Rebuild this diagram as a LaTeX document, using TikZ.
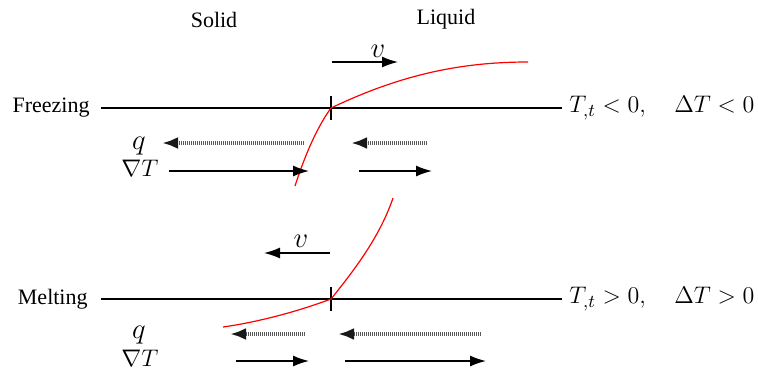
\documentclass[tikz,border=0pt]{standalone}
\usepackage{fontspec}
\setmainfont{Liberation Serif}
\usetikzlibrary{arrows.meta}
\begin{document}
\begin{tikzpicture}[x=0.5pt,y=-0.5pt,
  lbl/.style={font=\fontsize{11}{13}\selectfont, inner sep=0pt},
  mth/.style={font=\fontsize{12.2}{14}\selectfont, inner sep=0pt},
  grad/.style={font=\fontsize{12.5}{14}\selectfont, inner sep=0pt, anchor=base},
  big/.style={font=\fontsize{15}{18}\selectfont, inner sep=0pt, anchor=base},
  axis/.style={line width=1pt},
  arr/.style={line width=0.75pt, -{Latex[length=8pt,width=5.5pt]}},
  qarr/.style={line width=2pt, draw=black!65, dash pattern=on 0.5pt off 0.5pt, -{Latex[length=8pt,width=6pt,black!90]}},
  curve/.style={red, line width=0.6pt}]
\useasboundingbox (0,0) rectangle (758,371);
% labels
\node[lbl] (solid) at (214,20) {Solid};
\node[lbl] (liquid) at (446,19) {Liquid};
% Freezing
\node[lbl, anchor=east] (frz) at (90,108) {Freezing};
\coordinate (fL) at (101,108);
\coordinate (fR) at (562,108);
\coordinate (fC) at (331,108);
\draw[axis] (fL) -- (fR);
\draw[axis] ([yshift=-6]fC) -- ([yshift=6]fC);
\node[mth, anchor=west] (frzc) at (569,108) {$T_{,t}<0,\quad \Delta T<0$};
\node[big] (v1) at (378,57) {$v$};
\coordinate (v1a) at (332,62); \coordinate (v1b) at (398,62);
\draw[arr] (v1a) -- (v1b);
\draw[curve] (295,186) .. controls (306,152) and (318,126) .. (fC) .. controls (400,75) and (460,62) .. (528,62);
\node[big] (q1) at (139,149) {$q$};
\node[grad] (g1) at (140,176) {$\nabla T$};
\coordinate (q1a) at (304,143); \coordinate (q1b) at (162,143);
\coordinate (q1c) at (427,143); \coordinate (q1d) at (351,143);
\draw[qarr] (q1a) -- (q1b);
\draw[qarr] (q1c) -- (q1d);
\coordinate (g1a) at (169,171); \coordinate (g1b) at (309,171);
\coordinate (g1c) at (359,171); \coordinate (g1d) at (432,171);
\draw[arr] (g1a) -- (g1b);
\draw[arr] (g1c) -- (g1d);
% Melting
\node[lbl, anchor=east] (mlt) at (88,299) {Melting};
\coordinate (mL) at (101,299);
\coordinate (mR) at (562,299);
\coordinate (mC) at (331,299);
\draw[axis] (mL) -- (mR);
\draw[axis] ([yshift=-6]mC) -- ([yshift=6]mC);
\node[mth, anchor=west] (mltc) at (569,299) {$T_{,t}>0,\quad \Delta T>0$};
\node[big] (v2) at (301,247) {$v$};
\coordinate (v2a) at (330,253); \coordinate (v2b) at (264,253);
\draw[arr] (v2a) -- (v2b);
\draw[curve] (393,198) .. controls (380,236) and (356,268) .. (mC) .. controls (296,312) and (258,322) .. (223,327);
\node[big] (q2) at (139,338) {$q$};
\node[grad] (g2) at (140,366) {$\nabla T$};
\coordinate (q2a) at (305,334); \coordinate (q2b) at (230,334);
\coordinate (q2c) at (481,334); \coordinate (q2d) at (338,334);
\draw[qarr] (q2a) -- (q2b);
\draw[qarr] (q2c) -- (q2d);
\coordinate (g2a) at (236,361); \coordinate (g2b) at (309,361);
\coordinate (g2c) at (345,361); \coordinate (g2d) at (486,361);
\draw[arr] (g2a) -- (g2b);
\draw[arr] (g2c) -- (g2d);
\end{tikzpicture}
\end{document}
